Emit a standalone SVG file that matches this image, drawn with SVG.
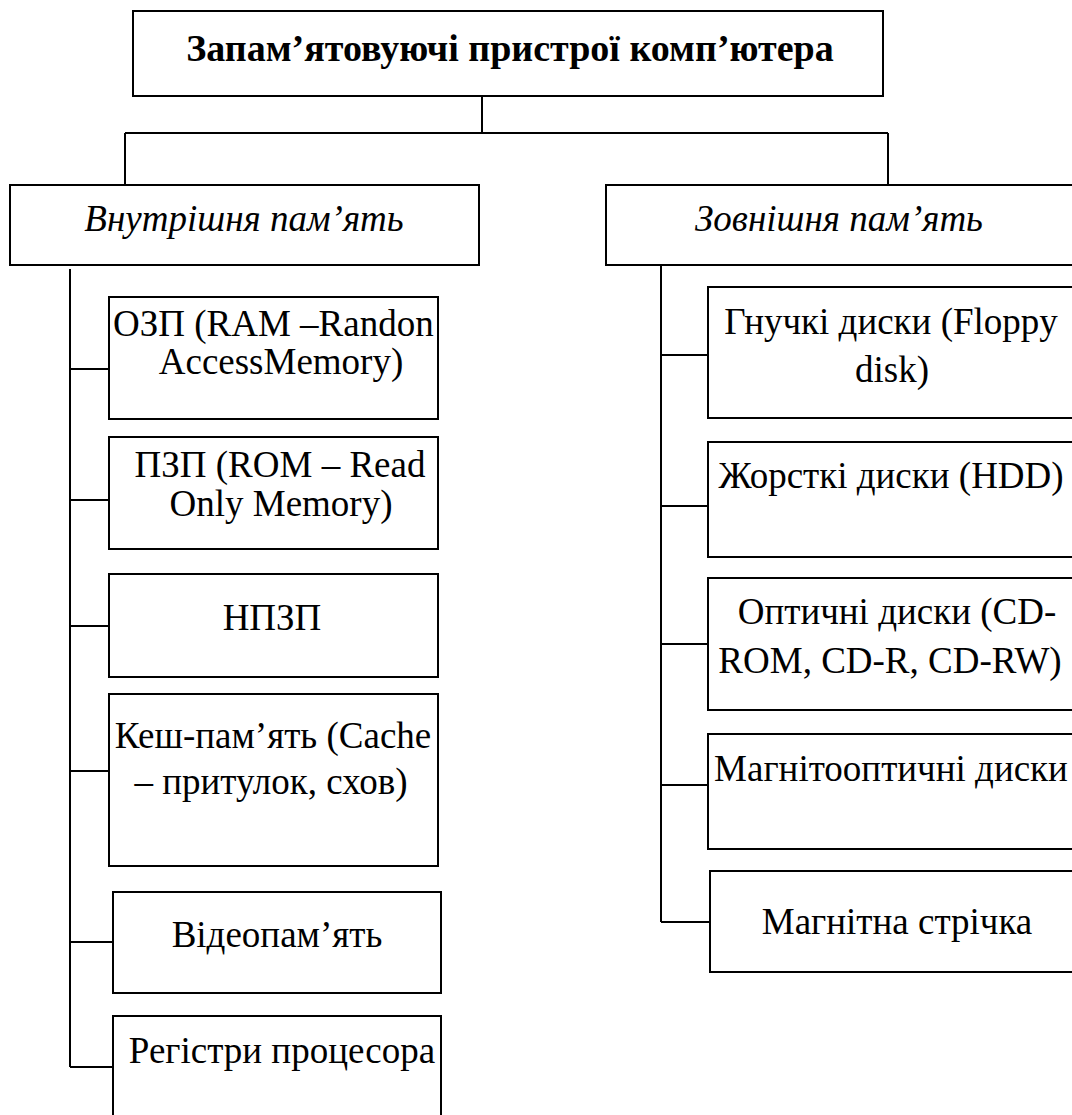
<svg xmlns="http://www.w3.org/2000/svg" width="1072" height="1115" viewBox="0 0 1072 1115" font-family="Liberation Serif, serif">
<style>
.box{fill:#fff;stroke:#000;stroke-width:2}
.ln{stroke:#000;stroke-width:2;fill:none}
.t{fill:#000;font-size:37px}
.c{text-anchor:middle}
.title{font-weight:bold;font-size:38px}
.it{font-style:italic}
</style>
<defs>
<clipPath id="clipRam"><rect x="110" y="298" width="327" height="120"/></clipPath>
</defs>
<g id="connectors">
<path class="ln" d="M482 96V133M125 133H888M125 133V185M888 133V185"/>
<path class="ln" d="M70 269V1067M70 369H109M70 500H109M70 626H109M70 771H109M70 942H113M70 1067H113"/>
<path class="ln" d="M661 265V922M661 355H708M661 506H708M661 644H708M661 785H708M661 922H710"/>
</g>
<g id="root">
<rect class="box" x="133" y="11" width="750" height="85"/>
<text class="t title c" x="510" y="61" font-family="Liberation Serif, serif">Запам’ятовуючі пристрої комп’ютера</text>
</g>
<g id="internal">
<rect class="box" x="10" y="185" width="469" height="80"/>
<text class="t it c" x="244" y="231" font-family="Liberation Serif, serif">Внутрішня пам’ять</text>
</g>
<g id="external">
<rect class="box" x="606" y="185" width="480" height="80"/>
<text class="t it c" x="839" y="231" font-family="Liberation Serif, serif">Зовнішня пам’ять</text>
</g>
<g id="ram">
<rect class="box" x="109" y="297" width="329" height="122"/>
<text class="t" x="113" y="336" clip-path="url(#clipRam)" font-family="Liberation Serif, serif">ОЗП (RAM –Randon</text>
<text class="t c" x="281" y="374" font-family="Liberation Serif, serif">AccessMemory)</text>
</g>
<g id="rom">
<rect class="box" x="109" y="437" width="329" height="112"/>
<text class="t c" x="280" y="477" font-family="Liberation Serif, serif">ПЗП (ROM – Read</text>
<text class="t c" x="281" y="516" font-family="Liberation Serif, serif">Only Memory)</text>
</g>
<g id="nrom">
<rect class="box" x="109" y="574" width="329" height="103"/>
<text class="t c" x="272" y="630" font-family="Liberation Serif, serif">НПЗП</text>
</g>
<g id="cache">
<rect class="box" x="109" y="694" width="329" height="172"/>
<text class="t c" x="273" y="748" font-family="Liberation Serif, serif">Кеш-пам’ять (Cache</text>
<text class="t c" x="271" y="794" font-family="Liberation Serif, serif">– притулок, схов)</text>
</g>
<g id="video">
<rect class="box" x="113" y="892" width="328" height="101"/>
<text class="t c" x="277" y="947" font-family="Liberation Serif, serif">Відеопам’ять</text>
</g>
<g id="registers">
<rect class="box" x="113" y="1016" width="328" height="110"/>
<text class="t c" x="282" y="1063" font-family="Liberation Serif, serif">Регістри процесора</text>
</g>
<g id="floppy">
<rect class="box" x="708" y="287" width="370" height="131"/>
<text class="t c" x="891" y="334" font-family="Liberation Serif, serif">Гнучкі диски (Floppy</text>
<text class="t c" x="892" y="382" font-family="Liberation Serif, serif">disk)</text>
</g>
<g id="hdd">
<rect class="box" x="708" y="442" width="370" height="115"/>
<text class="t c" x="891" y="488" font-family="Liberation Serif, serif">Жорсткі диски (HDD)</text>
</g>
<g id="optical">
<rect class="box" x="708" y="578" width="370" height="132"/>
<text class="t c" x="897" y="624" font-family="Liberation Serif, serif">Оптичні диски (CD-</text>
<text class="t c" x="890" y="673" font-family="Liberation Serif, serif">ROM, CD-R, CD-RW)</text>
</g>
<g id="magnetooptical">
<rect class="box" x="708" y="734" width="370" height="115"/>
<text class="t c" x="891" y="781" font-family="Liberation Serif, serif">Магнітооптичні диски</text>
</g>
<g id="tape">
<rect class="box" x="710" y="871" width="368" height="101"/>
<text class="t c" x="897" y="934" font-family="Liberation Serif, serif">Магнітна стрічка</text>
</g>
</svg>
